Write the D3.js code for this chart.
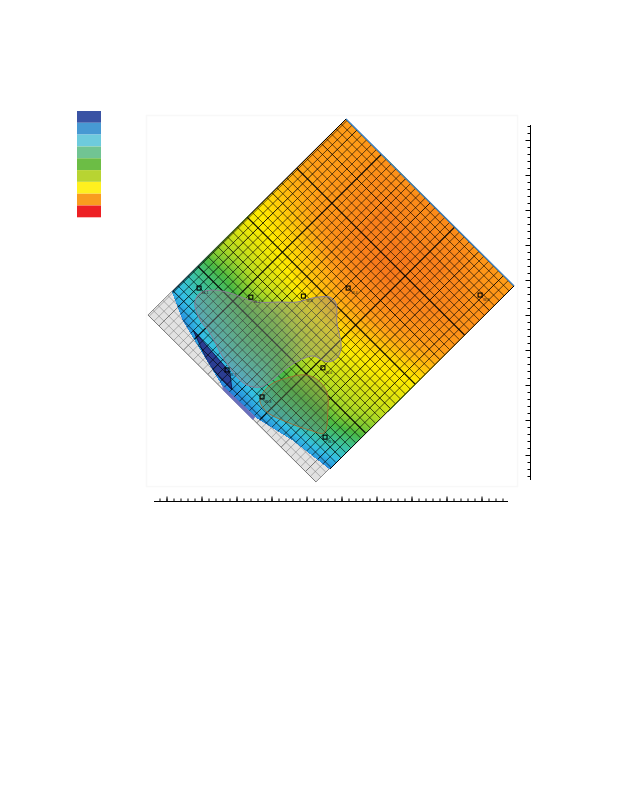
<!DOCTYPE html>
<html><head><meta charset="utf-8">
<style>html,body{margin:0;padding:0;background:#fff}svg{display:block}</style>
<script src="https://cdn.jsdelivr.net/npm/d3@7"></script>
</head><body><svg id="c" width="618" height="800"></svg>
<script>
// Legend colours, top to bottom
const legendColors=["#3a53a4","#4799d3","#6ecbdd","#71c493","#6cbd45","#b8d432","#fff01f","#f99d1f","#ed2024"];
// Colour ramp of the head field, by value 0..8
const fieldValues=[0,1,2,3,4,5,6,7,8];
const fieldColors=["#2a48a6","#2586dc","#35c0e6","#3cc3a0","#4cba44","#b7dc22","#ffea00","#ff9c18","#f4641c"];
// Model rectangle corners (axis units): top, right, bottom, left
const modelTop=[5.13,9.6], modelRight=[9.93,4.83], modelLeft=[-0.53,4.0];
// Field values; each row is a step across the model (NE edge to SW edge), each column a step along it
const field=[
[7.0,7.1,7.2,7.2,7.3,7.3,7.2,7.1,7.0],
[7.0,7.1,7.3,7.4,7.4,7.4,7.4,7.2,7.1],
[7.0,7.1,7.3,7.5,7.5,7.5,7.5,7.3,7.2],
[7.0,7.1,7.3,7.5,7.6,7.6,7.5,7.4,7.2],
[6.9,7.0,7.2,7.5,7.6,7.6,7.5,7.4,7.2],
[6.7,6.9,7.2,7.4,7.6,7.6,7.5,7.3,7.1],
[6.4,6.6,6.9,7.2,7.4,7.4,7.3,7.1,6.9],
[6.1,6.3,6.5,6.8,7.1,7.1,7.0,6.8,6.5],
[5.9,6.0,6.2,6.5,6.7,6.7,6.5,6.2,6.0],
[5.5,5.6,5.8,6.0,6.2,6.2,6.1,6.0,5.7],
[5.0,5.0,5.3,5.2,5.5,5.7,5.7,5.6,5.4],
[4.4,4.3,4.6,4.5,4.8,5.3,5.3,5.2,4.9],
[3.4,3.6,3.9,4.1,4.2,4.8,4.8,4.8,4.3],
[2.5,3.0,3.3,3.6,3.6,4.2,4.1,4.0,3.3],
[1.8,2.1,2.7,3.0,2.9,3.5,3.3,3.0,2.3],
[1.0,1.0,1.8,1.9,1.9,2.3,2.0,1.7,1.1],
[0.5,0.5,0.7,0.9,0.8,0.9,0.7,0.7,0.6]];
// Edge of the coloured (active) area, axis units
const activeEdge=[[5.13,9.6],[9.93,4.83],[4.67,-0.4],[3.61,0.43],[2.59,1.06],[1.61,1.97],[1.16,2.71],[0.47,3.86],[0.17,4.66]];
// Overlaid zones, axis units
const zoneA=[[0.81,4.34],[0.96,4.63],[1.34,4.71],[1.81,4.63],[2.19,4.49],[2.59,4.37],[3.24,4.37],[3.73,4.37],[4.19,4.49],[4.67,4.51],[4.84,4.34],[4.87,3.77],[4.99,3.09],[4.87,2.77],[4.59,2.66],[4.19,2.83],[3.81,2.71],[3.44,2.49],[3.01,2.14],[2.67,1.94],[2.3,2.0],[2.01,2.23],[1.61,2.8],[1.24,3.49],[0.96,3.86]];
const zoneB=[[2.67,1.56],[2.96,2.0],[3.44,2.2],[3.96,2.29],[4.33,2.14],[4.59,1.77],[4.61,1.29],[4.5,0.63],[4.1,0.71],[3.44,0.94],[2.87,1.23]];
// Dry cell zone and the strip along the outer edge
const dryZone=[[0.76,3.57],[1.81,2.37],[1.87,1.86],[1.53,2.2],[1.19,2.63]];
const stripZone=[[1.59,2.0],[2.54,1.09],[2.47,1.0],[1.61,1.86]];
// Wells: name, x, y (axis units)
const wellNames=["W-1","W-2","W-3","W-4","W-5","W-6","W-7","W-8","W-9"];
const wellX=[0.93,2.41,3.91,5.19,8.96,4.47,1.73,2.73,4.53];
const wellY=[4.77,4.51,4.54,4.77,4.57,2.49,2.43,1.66,0.51];
// Axis ticks
const majorX=d3.range(0,10), minorX=d3.range(-1,49).map(d=>d/5);
const majorY=d3.range(0,10), minorY=d3.range(-3,48).map(d=>d/5);
// Model grid line indices
const colLines=d3.range(-2,32), rowLines=d3.range(0,41);
const colHeavy=[5,20];

const svg=d3.select("#c");
const x=d3.scaleLinear().domain([0,9]).range([166.5,481.5]);
const y=d3.scaleLinear().domain([0,9]).range([455,140]);
const color=d3.scaleLinear().domain(fieldValues).range(fieldColors);
const uScale=d3.scaleLinear().domain([0,34.4]).range([0.0655,1.0655]);
const wScale=d3.scaleLinear().domain([0,40]).range([0,1]);

// Model-space helpers: u along the column direction, w across
const V1=[modelRight[0]-modelTop[0],modelRight[1]-modelTop[1]];
const V2=[modelLeft[0]-modelTop[0],modelLeft[1]-modelTop[1]];
const mx=(u,w)=>x(modelTop[0]+u*V1[0]+w*V2[0]);
const my=(u,w)=>y(modelTop[1]+u*V1[1]+w*V2[1]);
const line=d3.line().x(d=>x(d[0])).y(d=>y(d[1])).curve(d3.curveLinearClosed);
const smooth=d3.line().x(d=>x(d[0])).y(d=>y(d[1])).curve(d3.curveCatmullRomClosed.alpha(0.5));

// Faint page frame
svg.append("rect").attr("x",146.5).attr("y",115.5).attr("width",371).attr("height",371)
  .attr("fill","none").attr("stroke","#f8f8f8").attr("stroke-width",1.5);

// Legend
const lg=d3.scaleBand().domain(d3.range(legendColors.length)).range([111,217]).paddingInner(0.03);
svg.append("g").selectAll("rect").data(legendColors).join("rect")
  .attr("x",77).attr("width",24).attr("y",(d,i)=>lg(i)).attr("height",lg.bandwidth()+0.3).attr("fill",d=>d);

// Gray inactive strip
const corners=[[0,0],[1,0],[1,1],[0,1]];
const rectPath="M"+corners.map(c=>[mx(c[0],c[1]),my(c[0],c[1])].join(",")).join("L")+"Z";
svg.append("path").attr("d",rectPath).attr("fill","#e2e2e2").attr("stroke","#8a8a8a").attr("stroke-width",1);

function gridLines(g,stroke,widthOf,opacityOf){
  const L=[];
  colLines.forEach(i=>L.push({a:[uScale(i),0],b:[uScale(i),1],t:i,n:"u"}));
  rowLines.forEach(i=>L.push({a:[0,wScale(i)],b:[1,wScale(i)],t:i,n:"w"}));
  g.selectAll("line").data(L).join("line")
    .attr("x1",d=>mx(...d.a)).attr("y1",d=>my(...d.a))
    .attr("x2",d=>mx(...d.b)).attr("y2",d=>my(...d.b))
    .attr("stroke",stroke).attr("stroke-width",widthOf).attr("stroke-opacity",opacityOf);
}
svg.append("clipPath").attr("id","rectClip").append("path").attr("d",rectPath);
gridLines(svg.append("g").attr("clip-path","url(#rectClip)"),"#666",d=>d.t%5==0?1:0.75,d=>d.t%5==0?0.85:0.6);

// Active area
svg.append("clipPath").attr("id","activeClip").append("path").attr("d",line(activeEdge));
const active=svg.append("g").attr("clip-path","url(#activeClip)");
active.append("path").attr("d",rectPath).attr("fill",color(0));
const rows=field.length, cols=field[0].length;
const flat=field.flat();
const contours=d3.contours().size([cols,rows]).thresholds(d3.range(0.1,8,0.1))(flat);
const proj=d3.geoTransform({point(gx,gy){
  const u=(gx-0.5)/(cols-1), w=(gy-0.5)/(rows-1);
  this.stream.point(mx(u,w),my(u,w));
}});
const geo=d3.geoPath(proj);
active.append("g").selectAll("path").data(contours).join("path")
  .attr("d",geo).attr("fill",d=>color(d.value)).attr("stroke",d=>color(d.value)).attr("stroke-width",0.3);

// Dry zone
active.append("path").attr("d",line(dryZone)).attr("fill","#2b3d92").attr("stroke","#0a0f40").attr("stroke-width",0.8);

// Black grid in active area
gridLines(active.append("g"),"#000",
  d=>{ if(d.n=="u") return colHeavy.includes(d.t)?1.2:(d.t%5==0?0.95:0.85); return d.t%5==0?(d.t%10==0?1.2:0.95):0.85;},
  d=>d.t%5==0?0.9:0.75);

// Outer strip and edges
svg.append("path").attr("d",line(stripZone)).attr("fill","#6a6fbc");
svg.append("line").attr("x1",mx(0,0)).attr("y1",my(0,0)).attr("x2",mx(1,0)).attr("y2",my(1,0))
  .attr("stroke","#3f86c8").attr("stroke-width",1.3);
svg.append("line").attr("x1",mx(0,0)).attr("y1",my(0,0)).attr("x2",x(activeEdge[8][0])).attr("y2",y(activeEdge[8][1]))
  .attr("stroke","#000").attr("stroke-width",1);
svg.append("line").attr("x1",mx(1,0)).attr("y1",my(1,0)).attr("x2",x(activeEdge[2][0])).attr("y2",y(activeEdge[2][1]))
  .attr("stroke","#000").attr("stroke-width",1);

// Zones
svg.append("path").attr("d",smooth(zoneA)).attr("fill","#8a8a8a").attr("fill-opacity",0.42).attr("stroke","#8a7f96").attr("stroke-width",1);
svg.append("path").attr("d",smooth(zoneB)).attr("fill","#6f7f55").attr("fill-opacity",0.4).attr("stroke","#a06a30").attr("stroke-width",0.9);

// Wells
const wells=svg.append("g").selectAll("g").data(wellNames).join("g")
  .attr("transform",(d,i)=>`translate(${x(wellX[i])},${y(wellY[i])})`);
wells.append("rect").attr("x",-2).attr("y",-2).attr("width",4).attr("height",4).attr("fill","none").attr("stroke","#000").attr("stroke-width",1.1);
wells.append("text").text(d=>d).attr("x",3).attr("y",6).attr("font-size",3.5).attr("font-family","Liberation Sans").attr("fill","#111");

// Axes
const bAxis=svg.append("g").attr("transform","translate(0,501.5)");
bAxis.append("line").attr("x1",154).attr("x2",508).attr("stroke","#000").attr("stroke-width",1);
bAxis.append("g").call(d3.axisTop(x).tickValues(minorX).tickSize(3).tickSizeOuter(0).tickFormat("")).call(g=>g.select(".domain").remove());
bAxis.append("g").call(d3.axisTop(x).tickValues(majorX).tickSize(5).tickSizeOuter(0).tickFormat("")).call(g=>g.select(".domain").remove());
const rAxis=svg.append("g").attr("transform","translate(530.5,0)");
rAxis.append("line").attr("y1",125).attr("y2",480).attr("stroke","#000").attr("stroke-width",1);
rAxis.append("g").call(d3.axisLeft(y).tickValues(minorY).tickSize(3).tickSizeOuter(0).tickFormat("")).call(g=>g.select(".domain").remove());
rAxis.append("g").call(d3.axisLeft(y).tickValues(majorY).tickSize(5).tickSizeOuter(0).tickFormat("")).call(g=>g.select(".domain").remove());
</script></body></html>
